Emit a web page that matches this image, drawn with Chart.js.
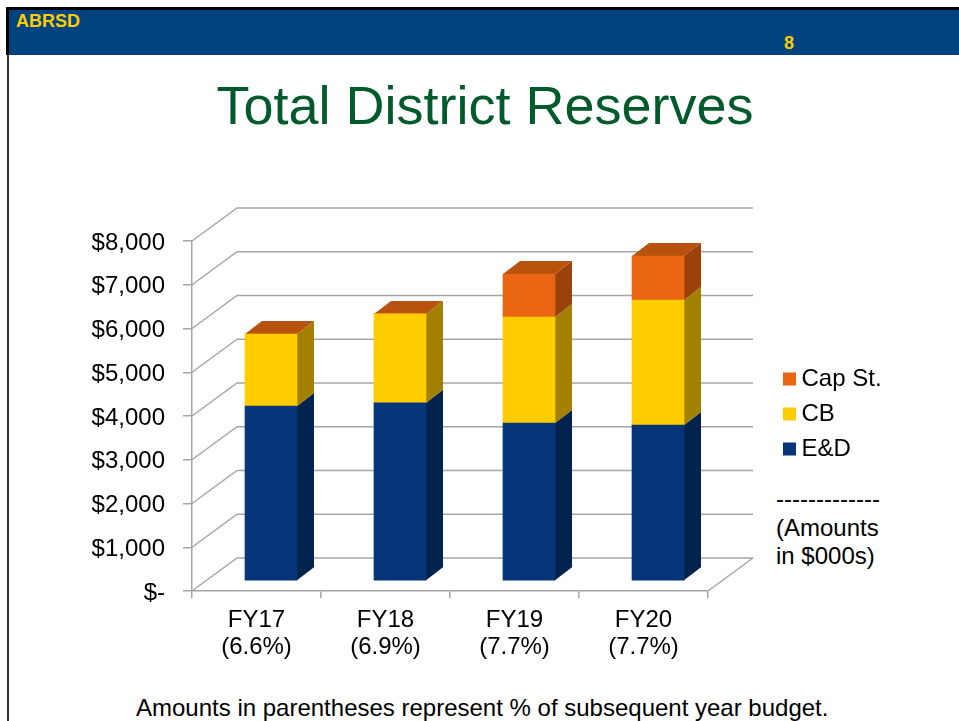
<!DOCTYPE html>
<html>
<head>
<meta charset="utf-8">
<script src="https://cdn.jsdelivr.net/npm/chart.js@4"></script>
<style>
html,body{margin:0;padding:0;background:#fff;width:959px;height:721px;overflow:hidden}
body{position:relative;font-family:"Liberation Sans",Arial,sans-serif;color:#000}
canvas{position:absolute;left:0;top:0}
.abs{position:absolute;white-space:pre}
#frameTop{left:6px;top:7px;width:953px;height:3px;background:#000}
#frameLeft{left:6px;top:7px;width:3px;height:48px;background:#000}
#frameLeft2{left:7px;top:55px;width:2px;height:666px;background:#333}
#band{left:9px;top:10px;width:950px;height:45px;background:#00437f}
#org{left:16px;top:12px;font:bold 18px/18px "Liberation Sans";color:#ffcc00}
#page{left:784px;top:34px;font:bold 18px/18px "Liberation Sans";color:#ffcc00}
#title{left:0;width:970px;top:74px;text-align:center;font:54px/62px "Liberation Sans";color:#005a2b}
#note{left:776px;top:485px;font:24px/28.5px "Liberation Sans"}
#foot{left:136px;top:694px;font:24px/28px "Liberation Sans"}
</style>
</head>
<body>
<div class="abs" id="band"></div>
<div class="abs" id="frameTop"></div>
<div class="abs" id="frameLeft"></div>
<div class="abs" id="frameLeft2"></div>
<div class="abs" id="org">ABRSD</div>
<div class="abs" id="page">8</div>
<div class="abs" id="title">Total District Reserves</div>
<div class="abs" id="note">-------------
(Amounts
in $000s)</div>
<div class="abs" id="foot">Amounts in parentheses represent % of subsequent year budget.</div>
<canvas id="c" width="959" height="721"></canvas>
<script>
const categories = [["FY17","(6.6%)"],["FY18","(6.9%)"],["FY19","(7.7%)"],["FY20","(7.7%)"]];
const edValues  = [4000,4075,3611,3566];
const cbValues  = [1646,2030,2423,2857];
const capValues = [0,0,983,1006];
const seriesNames = ["E&D","CB","Cap St."];
const frontColors = ["#06357a","#ffcc00","#eb6612"];
const sideColors  = ["#03234f","#a38000","#9a420a"];
const topColor = "#b8520f";
const gridColor = "#a6a6a6";

const WALL = {dx:45, dy:-33};   // depth of the 3D box
const BAR_SHIFT = {dx:14.5, dy:-10};
const BAR_DEPTH = {dx:17, dy:-13};

const depth3d = {
  id:"depth3d",
  afterLayout(chart){
    const lg = chart.legend, w = lg.width, h = lg.height;
    lg.left = 789.5 - 11; lg.right = lg.left + w;
    lg.top = 356; lg.bottom = lg.top + h;
  },
  beforeDraw(chart){
    const y = chart.scales.y;
    y.getLabelItems(chart.chartArea).forEach(it=>{
      if(!it.nudged){ it.options.translation[1] += 2; it.nudged = true; }
    });
  },
  beforeDatasetsDraw(chart){
    const {ctx, scales:{y}, chartArea:a} = chart;
    ctx.save();
    ctx.strokeStyle = gridColor; ctx.lineWidth = 1.5;
    y.ticks.forEach(t=>{
      const py = y.getPixelForValue(t.value);
      ctx.beginPath();
      ctx.moveTo(a.left,py);
      ctx.lineTo(a.left+WALL.dx,py+WALL.dy);
      ctx.lineTo(a.right+WALL.dx,py+WALL.dy);
      ctx.stroke();
    });
    const by = y.getPixelForValue(0);
    ctx.beginPath();
    ctx.moveTo(a.right,by);
    ctx.lineTo(a.right+WALL.dx,by+WALL.dy);
    ctx.stroke();
    ctx.translate(BAR_SHIFT.dx,BAR_SHIFT.dy);
    const d = BAR_DEPTH;
    chart.data.datasets.forEach((ds,i)=>{
      chart.getDatasetMeta(i).data.forEach((el)=>{
        const r = el.x+el.width/2;
        ctx.fillStyle = sideColors[i];
        ctx.beginPath();
        ctx.moveTo(r,el.y); ctx.lineTo(r+d.dx,el.y+d.dy);
        ctx.lineTo(r+d.dx,el.base+d.dy); ctx.lineTo(r,el.base);
        ctx.closePath(); ctx.fill();
      });
    });
    chart.getDatasetMeta(chart.data.datasets.length-1).data.forEach(el=>{
      const l = el.x-el.width/2, r = el.x+el.width/2;
      ctx.fillStyle = topColor;
      ctx.beginPath();
      ctx.moveTo(l,el.y); ctx.lineTo(r,el.y);
      ctx.lineTo(r+d.dx,el.y+d.dy); ctx.lineTo(l+d.dx,el.y+d.dy);
      ctx.closePath(); ctx.fill();
    });
    // the library's own bars are drawn next, in the same shifted frame
  },
  afterDatasetsDraw(chart){ chart.ctx.restore(); }
};

new Chart(document.getElementById("c"),{
  type:"bar",
  data:{
    labels:categories,
    datasets:[edValues,cbValues,capValues].map((v,i)=>({
      label:seriesNames[i], data:v, backgroundColor:frontColors[i],
      borderWidth:0, barThickness:52
    }))
  },
  options:{
    responsive:false,
    animation:false,
    layout:{padding:{left:0,top:241,right:251,bottom:0}},
    plugins:{
      tooltip:{enabled:false},
      title:{display:false},
      legend:{
        position:"chartArea",
        align:"start",
        reverse:true,
        labels:{
          usePointStyle:true, pointStyle:"rect",
          boxWidth:0.01, boxHeight:13,
          padding:11, color:"#000",
          font:{family:"Liberation Sans",size:24}
        }
      }
    },
    scales:{
      x:{
        stacked:true,
        border:{color:gridColor,width:1.5},
        grid:{drawOnChartArea:false,drawTicks:true,tickLength:7,color:gridColor,lineWidth:1.5,offset:true},
        ticks:{color:"#000",padding:8,maxRotation:0,font:{family:"Liberation Sans",size:24,lineHeight:1.16}},
        afterFit(s){s.height=130;}
      },
      y:{
        stacked:true,min:0,max:8000,
        border:{color:gridColor,width:1.5},
        grid:{drawOnChartArea:false,drawTicks:true,tickLength:9,color:gridColor,lineWidth:1.5},
        ticks:{
          stepSize:1000,color:"#000",padding:18,
          font:{family:"Liberation Sans",size:24},
          callback:v=>v===0?"$-":"$"+v.toLocaleString("en-US")
        },
        afterFit(s){s.width=192;}
      }
    }
  },
  plugins:[depth3d]
});
</script>
</body>
</html>
